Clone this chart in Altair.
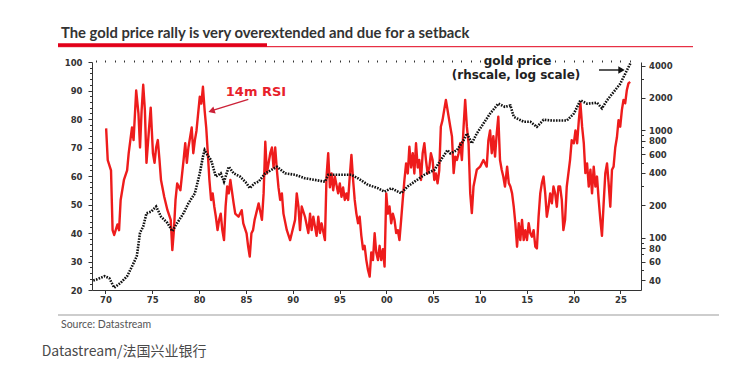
import altair as alt
import pandas as pd

# ---------------- data ----------------
rsi_year = [
    1970.07, 1970.24, 1970.59, 1970.76, 1970.93, 1971.28, 1971.45, 1971.62, 1971.97, 1972.31,
    1972.48, 1972.83, 1973.00, 1973.28, 1973.52, 1973.69, 1973.86, 1974.03, 1974.21, 1974.38,
    1974.66, 1974.83, 1975.07, 1975.24, 1975.41, 1975.59, 1975.76, 1975.93, 1976.28, 1976.62,
    1976.97, 1977.14, 1977.31, 1977.48, 1977.66, 1978.00, 1978.34, 1978.52, 1978.69, 1978.86,
    1979.21, 1979.38, 1979.55, 1979.72, 1980.07, 1980.24, 1980.41, 1980.59, 1980.76, 1980.93,
    1981.10, 1981.28, 1981.45, 1981.62, 1981.79, 1981.97, 1982.14, 1982.31, 1982.48, 1982.66,
    1982.83, 1983.00, 1983.17, 1983.34, 1983.69, 1983.86, 1984.21, 1984.55, 1984.72, 1985.07,
    1985.24, 1985.41, 1985.59, 1985.76, 1985.93,
    1986.36, 1986.71, 1986.89, 1987.07, 1987.24, 1987.60, 1987.78, 1987.95, 1988.13, 1988.31,
    1988.48, 1988.66, 1988.84, 1989.01, 1989.37, 1989.72, 1989.90, 1990.25, 1990.43, 1990.61,
    1990.78, 1990.96, 1991.31, 1991.67, 1991.85, 1992.02, 1992.20, 1992.55, 1992.73, 1992.91,
    1993.08, 1993.44, 1993.61, 1993.79, 1993.97, 1994.15, 1994.32, 1994.50, 1994.85, 1995.03,
    1995.21, 1995.38, 1995.56, 1995.74, 1995.92, 1996.09, 1996.27, 1996.45, 1996.62, 1996.80,
    1996.98, 1997.15, 1997.33, 1997.51, 1997.68, 1997.86, 1998.04, 1998.22, 1998.39, 1998.57,
    1998.75, 1998.92, 1999.10, 1999.28, 1999.45, 1999.63, 1999.81, 1999.99, 2000.16, 2000.34,
    2000.52, 2000.69, 2000.87, 2001.05, 2001.22, 2001.40, 2001.58, 2001.75, 2001.93, 2002.11,
    2002.29, 2002.46, 2002.64, 2002.82, 2002.99, 2003.17, 2003.35, 2003.52, 2003.70, 2003.88,
    2004.06, 2004.23, 2004.41, 2004.59, 2004.76, 2004.94, 2005.12, 2005.29, 2005.47, 2005.65,
    2005.82, 2006.00, 2006.18, 2006.36,
    2006.83, 2007.01, 2007.19, 2007.36, 2007.54, 2007.72, 2007.89, 2008.07, 2008.25, 2008.42,
    2008.60, 2008.78, 2008.96, 2009.13, 2009.31, 2009.66, 2010.02, 2010.37, 2010.72, 2010.90,
    2011.08, 2011.26, 2011.43, 2011.61, 2011.79, 2011.96, 2012.14, 2012.32, 2012.49, 2012.67,
    2012.90, 2013.08, 2013.25, 2013.43, 2013.61, 2013.78, 2013.96, 2014.14, 2014.31, 2014.49,
    2014.67, 2014.84, 2015.02, 2015.20, 2015.38, 2015.55, 2015.73, 2015.91, 2016.08, 2016.26,
    2016.44, 2016.61, 2016.79, 2016.97, 2017.14, 2017.32, 2017.50, 2017.68, 2017.85, 2018.03,
    2018.21, 2018.38, 2018.56, 2018.74, 2018.91, 2019.09, 2019.27, 2019.62, 2019.80, 2020.03,
    2020.20, 2020.38, 2020.56, 2020.73, 2020.91, 2021.09, 2021.26, 2021.44, 2021.62, 2021.80,
    2021.97, 2022.15, 2022.33, 2022.50, 2022.68, 2022.86, 2023.03, 2023.21, 2023.39, 2023.57,
    2023.74, 2023.92, 2024.10, 2024.27, 2024.45, 2024.63, 2024.80, 2024.98, 2025.16, 2025.33,
    2025.51, 2025.69, 2025.86, 2026.04,
]
rsi_value = [
    76.7, 65.6, 62.0, 41.0, 39.3, 43.0, 41.0, 51.6, 58.6, 62.0,
    68.0, 77.0, 72.6, 90.0, 82.0, 70.0, 83.0, 92.0, 83.0, 64.6,
    77.0, 84.0, 68.0, 64.6, 70.0, 72.6, 66.0, 58.6, 52.6, 48.0,
    44.6, 34.0, 41.0, 51.6, 57.4, 55.0, 65.6, 71.5, 64.6, 70.0,
    77.0, 68.0, 72.6, 75.9, 87.8, 85.4, 91.3, 83.0, 77.0, 68.0,
    58.6, 51.6, 53.9, 49.3, 45.7, 41.0, 44.6, 46.8, 41.0, 37.5,
    49.3, 56.3, 53.9, 58.6, 50.4, 46.8, 45.7, 48.0, 43.4, 39.9,
    35.2, 31.7, 39.9, 41.0, 44.6,
    50.4, 44.6, 53.9, 72.0, 60.9, 68.0, 70.0, 63.0, 70.0, 62.0,
    56.0, 51.6, 53.9, 46.8, 41.0, 37.5, 39.9, 44.6, 53.9, 49.3,
    41.0, 49.3, 45.7, 40.0, 46.8, 41.0, 45.7, 39.0, 45.7, 40.0,
    43.4, 37.5, 59.8, 68.0, 56.0, 60.9, 55.0, 59.8, 53.9, 57.4,
    52.7, 56.0, 51.6, 53.9, 51.6, 59.8, 67.4, 58.6, 51.6, 46.8,
    43.4, 45.7, 39.0, 34.3, 35.5, 30.5, 27.0, 24.7, 33.2, 30.5,
    39.9, 33.2, 30.5, 35.5, 30.5, 34.3, 28.2, 53.9, 46.8, 49.3,
    43.4, 46.8, 44.6, 40.0, 41.0, 37.5, 44.6, 51.6, 58.6, 64.4,
    60.9, 70.3, 63.0, 68.0, 60.9, 71.5, 63.0, 65.6, 58.6, 68.0,
    71.5, 65.6, 60.9, 63.0, 68.0, 65.6, 58.6, 60.9, 57.4, 62.0,
    77.3, 79.6, 83.2, 86.7,
    77.3, 73.8, 61.0, 66.8, 65.6, 68.0, 71.5, 65.6, 77.3, 86.7,
    77.3, 71.5, 53.9, 47.0, 56.3, 62.2, 63.3, 65.6, 63.3, 72.6,
    76.0, 68.0, 74.0, 66.8, 74.9, 80.8, 65.6, 62.2, 59.8, 56.3,
    63.3, 57.5, 56.3, 53.9, 49.2, 43.4, 35.2, 43.4, 37.5, 44.6,
    37.5, 41.0, 37.5, 43.4, 39.9, 38.7, 41.0, 35.2, 34.6, 45.7,
    53.9, 57.5, 59.8, 53.9, 45.7, 49.2, 53.9, 50.4, 56.3, 53.9,
    49.2, 56.3, 56.3, 51.6, 41.0, 44.6, 56.3, 65.6, 72.6, 71.5,
    76.0, 71.5, 79.6, 85.5, 77.3, 71.5, 61.0, 64.4, 56.3, 62.2,
    53.9, 63.3, 56.3, 59.8, 51.6, 44.6, 39.0, 50.4, 61.0, 64.4,
    57.5, 49.2, 62.2, 63.3, 70.0, 73.6, 79.6, 77.3, 83.2, 86.7,
    85.5, 90.2, 92.5, 93.0,
]

gold_year = [
    1968.70, 1969.03, 1969.90, 1970.41, 1970.93, 1971.62, 1972.31, 1972.83, 1973.34, 1973.69,
    1974.03, 1974.38, 1974.90, 1975.41, 1975.93, 1976.62, 1977.14, 1977.66, 1978.34, 1978.86,
    1979.55, 1980.07, 1980.41, 1980.59, 1980.93, 1981.28, 1981.79, 1982.31, 1982.66, 1983.17,
    1983.69, 1984.38, 1985.07, 1985.41, 1985.93,
    1986.36, 1987.07, 1988.31, 1989.19, 1990.25, 1991.31, 1992.38, 1993.44, 1993.79, 1994.85,
    1996.27, 1996.98, 1998.04, 1999.10, 1999.81, 2000.52, 2001.58, 2002.29, 2003.01, 2004.06,
    2005.12, 2005.82, 2006.53,
    2006.83, 2007.54, 2008.25, 2008.60, 2009.13, 2009.66, 2010.37, 2011.08, 2011.96, 2012.67,
    2013.25, 2013.61, 2014.67, 2015.38, 2016.08, 2016.79, 2017.85, 2019.27, 2020.03, 2020.73,
    2021.44, 2022.50, 2023.03, 2023.57, 2024.27, 2024.98, 2025.51, 2026.04, 2026.10,
]
gold_value = [
    40, 40.8, 43.8, 42, 34.2, 38, 43.8, 54, 67, 111,
    127, 169, 175, 195, 157, 137, 115, 137, 169, 209,
    259, 397, 566, 653, 580, 527, 370, 397, 332, 457,
    397, 370, 321, 289, 321,
    332, 397, 457, 397, 385, 357, 345, 332, 385, 385,
    385, 357, 310, 289, 268, 289, 259, 300, 332, 385,
    427, 527, 653,
    608, 653, 807, 933, 756, 933, 1153, 1428, 1767, 1650,
    1700, 1331, 1200, 1200, 1075, 1250, 1230, 1230, 1428, 1897,
    1767, 1800, 1600, 1897, 2265, 2705, 3350, 4150, 4250,
]

x_major_ticks = [1970, 1975, 1980, 1985, 1990, 1995, 2000, 2005, 2010, 2015, 2020, 2025]
x_minor_ticks = list(range(1969, 2027))
rsi_ticks = [20, 30, 40, 50, 60, 70, 80, 90, 100]
rsi_minor_ticks = [v for v in range(22, 100, 2) if v % 10 != 0]
gold_ticks = [40, 60, 80, 100, 200, 400, 600, 800, 1000, 2000, 4000]
gold_minor_ticks = [50, 70, 90, 300, 500, 700, 900, 3000]

X_DOMAIN = [1968.56, 2027.2]
RSI_DOMAIN = [20, 100]
GOLD_DOMAIN = [32.6, 4314]

rsi_df = pd.DataFrame({"year": rsi_year, "rsi": rsi_value})
gold_df = pd.DataFrame({"year": gold_year, "gold": gold_value})

AX = "#333333"
AXFONT = "DejaVu Sans"
RED = "#ee1c1c"

xscale = alt.Scale(domain=X_DOMAIN, nice=False, zero=False)
rsi_scale = alt.Scale(domain=RSI_DOMAIN, nice=False, zero=False)
gold_scale = alt.Scale(type="log", domain=GOLD_DOMAIN, nice=False)

lab = dict(labelFont=AXFONT, labelFontWeight="bold", labelFontSize=8.5, labelColor=AX,
           domainColor=AX, tickColor=AX, grid=False, title=None, labelFlush=False,
           labelOverlap=False)

rsi_line = alt.Chart(rsi_df).mark_line(color=RED, strokeWidth=2.4, strokeJoin="round").encode(
    x=alt.X("year:Q", scale=xscale,
            axis=alt.Axis(values=x_major_ticks, labelExpr="slice(format(datum.value, 'd'), 2)",
                          tickSize=3.5, labelPadding=2, **lab)),
    y=alt.Y("rsi:Q", scale=rsi_scale,
            axis=alt.Axis(orient="left", values=rsi_ticks, tickSize=4, labelPadding=6, **lab)),
)

gold_line = alt.Chart(gold_df).mark_line(color="#111111", strokeWidth=2.6, strokeDash=[1.6, 1.2]).encode(
    x=alt.X("year:Q", scale=xscale, axis=None),
    y=alt.Y("gold:Q", scale=gold_scale,
            axis=alt.Axis(orient="right", values=gold_ticks, format="d", tickSize=4,
                          labelPadding=3.5, **lab)),
)

minor_common = dict(labels=False, domain=False, grid=False, title=None, tickColor=AX)

rsi_minor = alt.Chart(rsi_df).mark_line(opacity=0).encode(
    x=alt.X("year:Q", scale=xscale,
            axis=alt.Axis(values=x_minor_ticks, tickSize=2, **minor_common)),
    y=alt.Y("rsi:Q", scale=rsi_scale,
            axis=alt.Axis(orient="left", values=rsi_minor_ticks, tickSize=2.5, **minor_common)),
)

gold_minor = alt.Chart(gold_df).mark_line(opacity=0).encode(
    x=alt.X("year:Q", scale=xscale, axis=None),
    y=alt.Y("gold:Q", scale=gold_scale,
            axis=alt.Axis(orient="right", values=gold_minor_ticks, tickSize=2.5, **minor_common)),
)

one = alt.Data(values=[{"k": 1}])


def txt(text, x, y, **kw):
    return alt.Chart(one).mark_text(text=text, **kw).encode(x=alt.value(x), y=alt.value(y))


def rule(x1, x2, y, **kw):
    return alt.Chart(one).mark_rule(**kw).encode(x=alt.value(x1), x2=alt.value(x2), y=alt.value(y))


def tri(x, y, **kw):
    return alt.Chart(one).mark_point(filled=True, opacity=1, **kw).encode(x=alt.value(x), y=alt.value(y))


title = txt("The gold price rally is very overextended and due for a setback", -31, -24,
            align="left", baseline="alphabetic", font="Lato", fontWeight="bold",
            fontSize=14.8, color="#333333")
red_thick = rule(-34, 175, -17, color="#e2001a", strokeWidth=3.5)
red_thin = rule(-34, 601, -15.3, color="#e2001a", strokeWidth=1)
gray_rule = rule(-34, 627, 253, color="#bdbdbd", strokeWidth=1.5)
source = txt("Source: Datastream", -31, 263, align="left", baseline="middle", font="Lato",
             fontSize=10.5, color="#555555")
credit = txt("Datastream/法国兴业银行", -50.3, 290, align="left", baseline="middle",
             font="Noto Sans CJK SC", fontSize=14, color="#4a4a4a")

rsi_label = txt("14m RSI", 164, 29.5, align="center", baseline="middle", font=AXFONT,
                fontWeight="bold", fontSize=13, color="#e8212b")
rsi_arrow = alt.Chart(one).mark_rule(color="#cc2238", strokeWidth=1.4).encode(
    x=alt.value(156.3), x2=alt.value(121.5), y=alt.value(37.3), y2=alt.value(48.2))
rsi_head = tri(120.5, 48.6, shape="triangle", size=55, angle=251.6, color="#cc2238")

gold_label1 = txt("gold price", 425.5, -1.5, align="center", baseline="middle", font=AXFONT,
                  fontWeight="bold", fontSize=12, color="#222222")
gold_label2 = txt("(rhscale, log scale)", 424, 13, align="center", baseline="middle",
                  font=AXFONT, fontWeight="bold", fontSize=12, color="#222222")
gold_arrow = rule(507, 528, 8, color="#111111", strokeWidth=1.4)
gold_head = tri(529.5, 8, shape="triangle-right", size=55, color="#111111")

chart = alt.layer(
    rsi_line, gold_line, rsi_minor, gold_minor,
    title, red_thick, red_thin, gray_rule, source, credit,
    rsi_label, rsi_arrow, rsi_head, gold_label1, gold_label2, gold_arrow, gold_head,
).resolve_scale(y="independent").resolve_axis(x="independent", y="independent").properties(
    width=549, height=228,
    autosize=alt.AutoSizeParams(type="none"),
    padding={"left": 84, "top": 54, "right": 90, "bottom": 72},
    background="white",
).configure_view(stroke=None)

chart.save("out.html", embed_options={"renderer": "svg", "actions": False})
